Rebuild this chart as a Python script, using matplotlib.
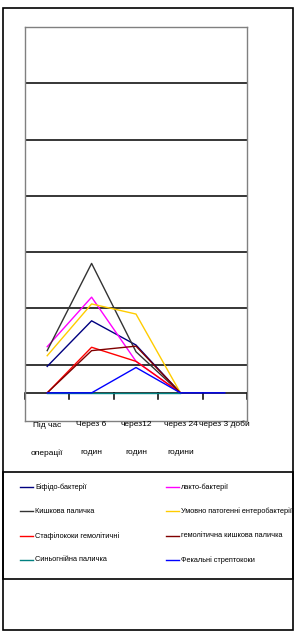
import matplotlib
matplotlib.use('Agg')
import matplotlib.pyplot as plt
import matplotlib.transforms as mtrans
from matplotlib.lines import Line2D
from matplotlib.patches import Rectangle

plt.rcParams['font.family'] = ['Liberation Sans', 'DejaVu Sans']

categories = [['Під час', 'операції'], ['Через 6', 'годин'], ['через12', 'годин'],
              ['через 24', 'години'], ['через 3 доби', '']]

names = ['Біфідо-бактерії', 'лакто-бактерії', 'Кишкова паличка',
         'Умовно патогенні ентеробактерії', 'Стафілококи гемолітичні',
         'гемолітична кишкова паличка', 'Синьогнійна паличка', 'Фекальні стрептококи']
colors = ['#000080', '#ff00ff', '#333333', '#ffcc00', '#ff0000', '#800000', '#008080', '#0000ff']

bifido = [0.47, 1.28, 0.85, 0.0]
lakto = [0.82, 1.70, 0.56, 0.0]
kyshkova = [0.75, 2.30, 0.73, 0.0]
umovno = [0.66, 1.58, 1.40, 0.0]
stafilo = [0.0, 0.81, 0.56, 0.0]
hemolit = [0.0, 0.75, 0.83, 0.0]
synyo = [0.0, 0.0, 0.0, 0.0]
fekal = [0.0, 0.0, 0.45, 0.0, 0.0]
series = [bifido, lakto, kyshkova, umovno, stafilo, hemolit, synyo, fekal]

W, H = 296, 637
fig = plt.figure(figsize=(W / 100, H / 100), dpi=100)

def fx(px):
    return px / W

def fy(py):
    return 1 - py / H

# outer frame and legend box
fig.add_artist(Rectangle((fx(3), fy(630)), fx(290), (630 - 8) / H, fill=False,
                         edgecolor='black', lw=1.2, transform=fig.transFigure))
fig.add_artist(Rectangle((fx(3), fy(579)), fx(290), (579 - 472) / H, fill=False,
                         edgecolor='black', lw=1.2, transform=fig.transFigure))

ax = fig.add_axes([fx(25), fy(421), fx(247 - 25), (421 - 27) / H])
ax.set_xlim(-0.5, 4.5)
ax.set_ylim(-0.5, 6.5)
for s in ax.spines.values():
    s.set_color('#808080')
    s.set_linewidth(1)
ax.set_xticks([])
ax.set_yticks([])

# gridlines
for g in [0.5, 1.5, 2.5, 3.5, 4.5, 5.5]:
    ax.axhline(g, color='black', lw=1.1, zorder=1)
# category axis with tick marks
ax.axhline(0, color='black', lw=1.1, zorder=1)
for t in [-0.5, 0.5, 1.5, 2.5, 3.5, 4.5]:
    ax.plot([t, t], [0, -0.11], color='black', lw=1.1, clip_on=False, zorder=1)

# series
for vals, c in zip(series, colors):
    ax.plot(range(len(vals)), vals, color=c, lw=1.0, zorder=3)

# category labels (two lines each)
tr = mtrans.blended_transform_factory(ax.transData, fig.transFigure)
for i, (l1, l2) in enumerate(categories):
    ax.text(i, fy(421), l1, transform=tr, ha='center', va='top', fontsize=6)
    if l2:
        ax.text(i, fy(449), l2, transform=tr, ha='center', va='top', fontsize=6)

# legend, filled row by row like the original
for k, (name, c) in enumerate(zip(names, colors)):
    row, col = k // 2, k % 2
    y = 487 + row * 24.3
    x0 = 20 if col == 0 else 166
    fig.add_artist(Line2D([fx(x0), fx(x0 + 13)], [fy(y), fy(y)], color=c, lw=1.0,
                          transform=fig.transFigure))
    fig.text(fx(x0 + 15), fy(y), name, ha='left', va='center', fontsize=5.3)

fig.savefig('out.png', dpi=100)
